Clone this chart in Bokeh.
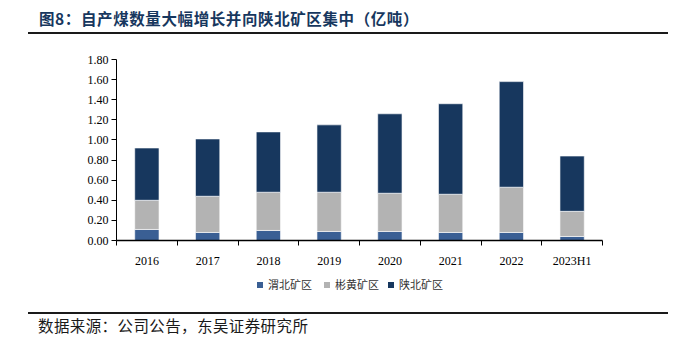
from bokeh.plotting import figure
from bokeh.models import Range1d, FixedTicker, NumeralTickFormatter, ColumnDataSource, Div
from bokeh.layouts import column
from bokeh.embed import file_html
from bokeh.resources import INLINE

categories = ["2016", "2017", "2018", "2019", "2020", "2021", "2022", "2023H1"]
weibei = [0.11, 0.08, 0.10, 0.09, 0.09, 0.08, 0.08, 0.04]
binhuang = [0.29, 0.36, 0.38, 0.39, 0.38, 0.38, 0.45, 0.25]
shaanbei = [0.52, 0.57, 0.60, 0.67, 0.79, 0.90, 1.05, 0.55]
series_names = ["渭北矿区", "彬黄矿区", "陕北矿区"]
colors = ["#3a5f94", "#b3b3b3", "#17375e"]
title_text = "图8：自产煤数量大幅增长并向陕北矿区集中（亿吨）"
source_text = "数据来源：公司公告，东吴证券研究所"

xs = [i + 0.5 for i in range(len(categories))]
src = ColumnDataSource(dict(x=xs, weibei=weibei, binhuang=binhuang, shaanbei=shaanbei))

W = 694
TOP_H, FIG_H = 40, 230
FOOT_H = 349 - TOP_H - FIG_H
FL, FR = 116, 602
FT, FB = 59 - TOP_H, 241 - TOP_H

cjk = "'Noto Sans CJK SC', sans-serif"
title_div = Div(text=(
    f'<div style="position:relative;width:{W}px;height:{TOP_H}px;font-family:{cjk};">'
    f'<div style="position:absolute;left:39px;top:8px;font-size:15.5px;font-weight:bold;'
    f'letter-spacing:0.6px;color:#17375e;line-height:20px;white-space:nowrap;">{title_text}</div>'
    f'<div style="position:absolute;left:28px;top:32px;width:640px;height:2px;'
    f'background:#1a1a1a;"></div></div>'), width=W, height=TOP_H, margin=0)

# legend (HTML) + source note
leg_x = [257, 324, 388]
leg_html = ""
for lx, name, c in zip(leg_x, series_names, colors):
    leg_html += (f'<div style="position:absolute;left:{lx}px;top:{282 - TOP_H - FIG_H}px;'
                 f'width:6px;height:6px;background:{c};"></div>'
                 f'<div style="position:absolute;left:{lx + 11}px;top:{277 - TOP_H - FIG_H}px;'
                 f'font-size:11px;line-height:14px;color:#333333;white-space:nowrap;">{name}</div>')

foot_div = Div(text=(
    f'<div style="position:relative;width:{W}px;height:{FOOT_H}px;font-family:{cjk};">'
    + leg_html +
    f'<div style="position:absolute;left:28px;top:{311.7 - TOP_H - FIG_H}px;width:640px;height:2px;'
    f'background:#1a1a1a;"></div>'
    f'<div style="position:absolute;left:38px;top:{315 - TOP_H - FIG_H}px;font-size:15.5px;'
    f'letter-spacing:0.4px;color:#1a1a1a;line-height:20px;white-space:nowrap;">{source_text}</div></div>'),
    width=W, height=FOOT_H, margin=0)

p = figure(width=W, height=FIG_H, output_backend="svg", toolbar_location=None,
           x_range=Range1d(0, len(categories)), y_range=Range1d(0, 1.8),
           min_border_left=FL, min_border_right=W - FR, min_border_top=FT,
           min_border_bottom=FIG_H - FB, margin=0)
p.outline_line_color = None
p.xgrid.visible = False
p.ygrid.visible = False
p.background_fill_color = "white"
p.border_fill_color = "white"

rs = p.vbar_stack(["weibei", "binhuang", "shaanbei"], x="x", width=0.4, source=src,
                  color=colors, line_color="white", line_width=0.6)

serif = "Liberation Serif"
p.yaxis.ticker = FixedTicker(ticks=[i * 0.2 for i in range(10)])
p.yaxis.formatter = NumeralTickFormatter(format="0.00")
p.yaxis.major_label_text_font = serif
p.yaxis.major_label_text_font_size = "12px"
p.yaxis.major_label_text_color = "black"
p.yaxis.axis_line_color = "black"
p.yaxis.major_tick_line_color = "black"
p.yaxis.major_tick_out = 5
p.yaxis.major_tick_in = 0
p.yaxis.minor_tick_line_color = None
p.yaxis.major_label_standoff = 3

p.xaxis.ticker = FixedTicker(ticks=xs, minor_ticks=list(range(len(categories) + 1)))
p.xaxis.major_label_overrides = {x: c for x, c in zip(xs, categories)}
p.xaxis.major_label_text_font = serif
p.xaxis.major_label_text_font_size = "12px"
p.xaxis.major_label_text_color = "black"
p.xaxis.axis_line_color = "black"
p.xaxis.axis_line_width = 1.5
p.xaxis.major_tick_out = 0
p.xaxis.major_tick_in = 0
p.xaxis.minor_tick_line_color = "black"
p.xaxis.minor_tick_out = 5
p.xaxis.minor_tick_in = 0
p.xaxis.major_label_standoff = 8

layout = column(title_div, p, foot_div, spacing=0, margin=0)
open("out.html", "w").write(file_html(layout, INLINE))
